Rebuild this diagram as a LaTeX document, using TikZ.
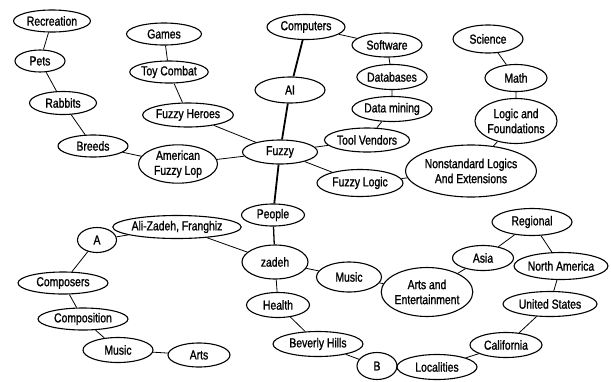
\documentclass[tikz,border=0pt]{standalone}
\usepackage{fontspec}
\setmainfont{Liberation Sans}[FakeStretch=0.8,FakeBold=1.2]
\usetikzlibrary{shapes.geometric}
\tikzset{every picture/.style={line width=0.75pt}}

\begin{document}
\begin{tikzpicture}[x=1pt,y=1pt,yscale=-1,xscale=1,
  topic/.style={draw, ellipse, line width=1.1pt, inner sep=0pt, align=center, font=\fontsize{13}{15}\selectfont},
  link/.style={line width=0.8pt},
  trunk/.style={line width=1.8pt}]
\useasboundingbox (0,0) rectangle (611,381);

% Topic Nodes (upper half)
\node[topic, minimum width=77, minimum height=22] (recreation) at (52,21) {Recreation};
\node[topic, minimum width=50, minimum height=22] (pets) at (40,61) {Pets};
\node[topic, minimum width=67, minimum height=23] (rabbits) at (63,103) {Rabbits};
\node[topic, minimum width=70, minimum height=22] (breeds) at (93,146) {Breeds};
\node[topic, minimum width=79, minimum height=35] (lop) at (178,164) {American\\Fuzzy Lop};
\node[topic, minimum width=75, minimum height=22] (games) at (164,34) {Games};
\node[topic, minimum width=75, minimum height=22] (toycombat) at (169,72) {Toy Combat};
\node[topic, minimum width=79, minimum height=24] (heroes) at (188,115) {Fuzzy Heroes};
\node[topic, minimum width=75, minimum height=24] (fuzzy) at (280,152) {Fuzzy};
\node[topic, minimum width=70, minimum height=26] (ai) at (290,90) {AI};
\node[topic, minimum width=78, minimum height=25] (computers) at (306,27) {Computers};
\node[topic, minimum width=70, minimum height=24] (software) at (387,45) {Software};
\node[topic, minimum width=70, minimum height=25] (databases) at (392,77) {Databases};
\node[topic, minimum width=80, minimum height=25] (datamining) at (392,109) {Data mining};
\node[topic, minimum width=80, minimum height=24] (toolvendors) at (367,140) {Tool Vendors};
\node[topic, minimum width=86, minimum height=27] (fuzzylogic) at (360,183) {Fuzzy Logic};
\node[topic, minimum width=118, minimum height=52] (nonstandard) at (471,171) {Nonstandard Logics\\And Extensions};
\node[topic, minimum width=82, minimum height=45] (foundations) at (516,121) {Logic and\\Foundations};
\node[topic, minimum width=62, minimum height=27] (math) at (516,78) {Math};
\node[topic, minimum width=70, minimum height=28] (science) at (488,39) {Science};

% Topic Nodes (lower half)
\node[topic, minimum width=63, minimum height=22] (people) at (273,215) {People};
\node[topic, minimum width=66, minimum height=34] (zadeh) at (275,262) {zadeh};
\node[topic, minimum width=117, minimum height=23] (alizadeh) at (177,227) {Ali-Zadeh, Franghiz};
\node[topic, minimum width=39, minimum height=25] (a) at (97,240) {A};
\node[topic, minimum width=90, minimum height=22] (composers) at (63,283) {Composers};
\node[topic, minimum width=90, minimum height=22] (composition) at (83,319) {Composition};
\node[topic, minimum width=70, minimum height=25] (musicleft) at (118,350) {Music};
\node[topic, minimum width=62, minimum height=24] (arts) at (199,355) {Arts};
\node[topic, minimum width=63, minimum height=25] (health) at (278,305) {Health};
\node[topic, minimum width=90, minimum height=25] (beverly) at (318,344) {Beverly Hills};
\node[topic, minimum width=40, minimum height=27] (b) at (377,366) {B};
\node[topic, minimum width=80, minimum height=25] (localities) at (437,367) {Localities};
\node[topic, minimum width=72, minimum height=25] (california) at (506,345) {California};
\node[topic, minimum width=94, minimum height=25] (unitedstates) at (550,304) {United States};
\node[topic, minimum width=92, minimum height=27] (northamerica) at (561,266) {North America};
\node[topic, minimum width=80, minimum height=27] (regional) at (532,222) {Regional};
\node[topic, minimum width=61, minimum height=25] (asia) at (483,258) {Asia};
\node[topic, minimum width=91, minimum height=49] (artsent) at (427,292) {Arts and\\Entertainment};
\node[topic, minimum width=65, minimum height=30] (musicright) at (349,277) {Music};

%Straight Lines
\draw[link] (recreation) -- (pets) -- (rabbits) -- (breeds) -- (lop) -- (fuzzy);
\draw[link] (games) -- (toycombat) -- (heroes) -- (fuzzy);
\draw[trunk] (computers) -- (ai) -- (fuzzy) -- (people);
\draw[link] (computers) -- (software) -- (databases) -- (datamining) -- (toolvendors) -- (fuzzy);
\draw[link] (fuzzy) -- (fuzzylogic) -- (nonstandard) -- (foundations) -- (math) -- (science);
\draw[line width=1.3pt] (people) -- (zadeh);
\draw[link] (zadeh) -- (alizadeh) -- (a) -- (composers) -- (composition) -- (musicleft) -- (arts);
\draw[link] (zadeh) -- (health) -- (beverly) -- (b) -- (localities) -- (california) -- (unitedstates) -- (northamerica) -- (regional) -- (asia) -- (artsent) -- (musicright) -- (zadeh);

\end{tikzpicture}
\end{document}
